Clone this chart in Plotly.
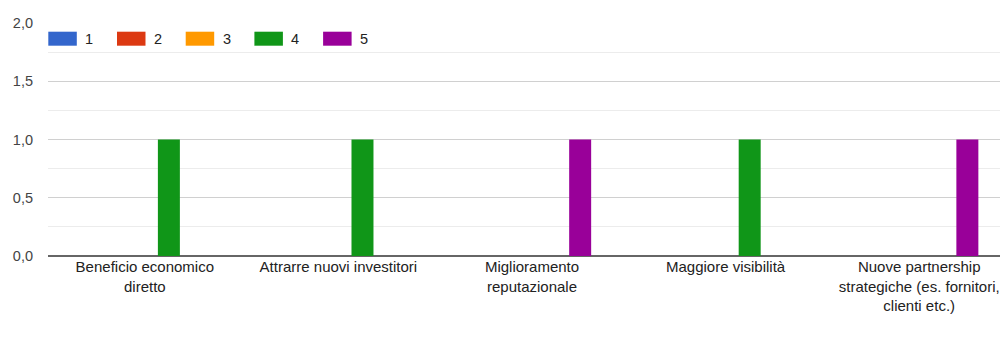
import plotly.graph_objects as go

# Survey answers: how many respondents gave each rating (1-5) per benefit
categories = [
    "Beneficio economico<br>diretto",
    "Attrarre nuovi investitori",
    "Miglioramento<br>reputazionale",
    "Maggiore visibilità",
    "Nuove partnership<br>strategiche (es. fornitori,<br>clienti etc.)",
]
series_names = ["1", "2", "3", "4", "5"]
rating_1 = [0, 0, 0, 0, 0]
rating_2 = [0, 0, 0, 0, 0]
rating_3 = [0, 0, 0, 0, 0]
rating_4 = [1, 1, 0, 1, 0]
rating_5 = [0, 0, 1, 0, 1]
y_ticks = [0, 0.5, 1.0, 1.5, 2.0]

colors = ["#3366cc", "#dc3912", "#ff9900", "#109618", "#990099"]
series_values = [rating_1, rating_2, rating_3, rating_4, rating_5]

W, H = 1000, 342
ML, MR, MT, MB = 48, 0, 23, 86
plot_w = W - ML - MR
plot_h = H - MT - MB

FONT = "Liberation Sans, Arial, sans-serif"

fig = go.Figure()
for name, vals, col in zip(series_names, series_values, colors):
    fig.add_trace(go.Bar(
        x=categories, y=vals, name=name,
        marker=dict(color=col, line=dict(width=0)),
        showlegend=False,
    ))

# Legend drawn as wide colour swatches across the top of the plot
def px_x(px):
    return (px - ML) / plot_w

def px_y(py):
    return (MT + plot_h - py) / plot_h

shapes = []
annotations = []
for i, (name, col) in enumerate(zip(series_names, colors)):
    x0 = 48.3 + i * 68.7
    shapes.append(dict(
        type="rect", xref="paper", yref="paper",
        x0=px_x(x0), x1=px_x(x0 + 28.5),
        y0=px_y(45.7), y1=px_y(31.7),
        fillcolor=col, line=dict(width=0), layer="above",
    ))
    annotations.append(dict(
        xref="paper", yref="paper", x=px_x(x0 + 35), y=px_y(39),
        text=name, showarrow=False, xanchor="left", yanchor="middle",
        font=dict(family=FONT, size=14.5, color="#222222"),
    ))

# Category axis runs past the right edge of the page
cat_width = 193.6
x_end = -0.5 + plot_w / cat_width

fig.update_layout(
    width=W, height=H,
    margin=dict(l=ML, r=MR, t=MT, b=MB, pad=0),
    paper_bgcolor="white", plot_bgcolor="white",
    barmode="group", bargap=0.378, bargroupgap=0.087,
    separators=",.",
    shapes=shapes, annotations=annotations,
    font=dict(family=FONT, size=14.5, color="#222222"),
    xaxis=dict(
        type="category", range=[-0.5, x_end],
        showgrid=False, zeroline=False, showline=False,
        ticks="", tickfont=dict(family=FONT, size=15, color="#222222"),
        fixedrange=True,
    ),
    yaxis=dict(
        range=[0, 2], tickvals=y_ticks, tickformat=".1f",
        showgrid=True, gridcolor="#d0d0d0", gridwidth=1,
        minor=dict(dtick=0.25, showgrid=True, gridcolor="#ececec", gridwidth=1),
        zeroline=True, zerolinecolor="#666666", zerolinewidth=1.5,
        showline=False, ticks="",
        ticklabelstandoff=14,
        tickfont=dict(family=FONT, size=14.5, color="#444444"),
        fixedrange=True,
    ),
)

fig.write_html("out.html", config={"displayModeBar": False})
